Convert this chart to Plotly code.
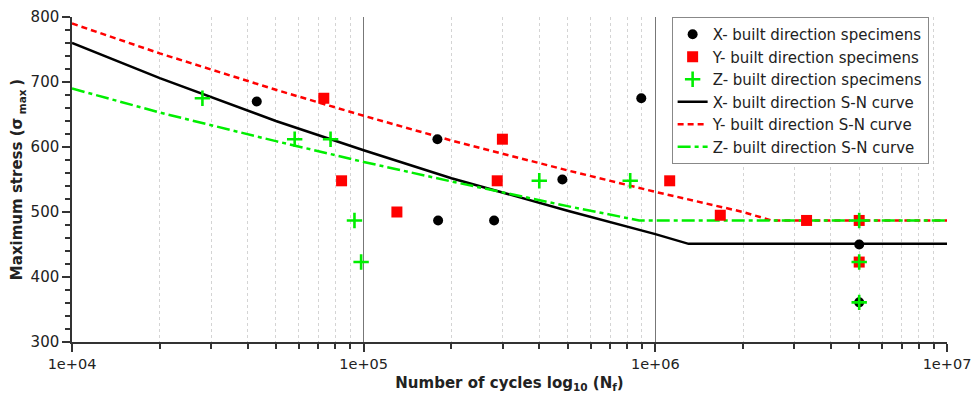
import plotly.graph_objects as go

# Specimen data (cycles, max stress)
x_pts_N = [4.3e4, 1.79e5, 1.8e5, 2.8e5, 4.8e5, 8.95e5, 5e6, 5e6]
x_pts_S = [670, 612, 487, 487, 550, 675, 450, 361]

y_pts_N = [7.3e4, 8.4e4, 1.3e5, 2.99e5, 2.87e5, 1.12e6, 1.67e6, 3.3e6, 5e6, 5e6]
y_pts_S = [675, 548, 500, 612, 548, 548, 495, 487, 487, 423]

z_pts_N = [2.8e4, 5.8e4, 7.7e4, 9.3e4, 9.8e4, 4.0e5, 8.2e5, 5e6, 5e6, 5e6]
z_pts_S = [675, 612, 612, 487, 423, 548, 548, 487, 423, 361]

# S-N curves (read at sample points)
x_curve_N = [1e4, 2e4, 5e4, 1e5, 2e5, 5e5, 1e6, 1.3e6, 1e7]
x_curve_S = [760, 706, 640, 595, 552, 502, 466, 451, 451]

y_curve_N = [1e4, 2e4, 5e4, 1e5, 2e5, 5e5, 1e6, 2e6, 2.5e6, 1e7]
y_curve_S = [790, 744, 688, 648, 610, 564, 531, 500, 487, 487]

z_curve_N = [1e4, 2e4, 5e4, 1e5, 2e5, 5e5, 8.8e5, 1e7]
z_curve_S = [690, 653, 609, 577, 547, 509, 487, 487]

x_tickvals = [1e4, 1e5, 1e6, 1e7]
x_ticktext = ["1e+04", "1e+05", "1e+06", "1e+07"]
x_decade_grid = [1e5, 1e6]

GREEN = "#00ee00"
RED = "#ff0000"

fig = go.Figure()

# invisible helper trace so the overlay grid axis is drawn
fig.add_trace(go.Scatter(x=x_decade_grid, y=[None, None], xaxis="x2", mode="lines",
                         showlegend=False, hoverinfo="skip"))

fig.add_trace(go.Scatter(x=x_curve_N, y=x_curve_S, mode="lines",
                         name="X- built direction S-N curve", legendrank=4,
                         line=dict(color="black", width=2.5)))
fig.add_trace(go.Scatter(x=y_curve_N, y=y_curve_S, mode="lines",
                         name="Y- built direction S-N curve", legendrank=5,
                         line=dict(color=RED, width=2.5, dash="6px,4px")))
fig.add_trace(go.Scatter(x=z_curve_N, y=z_curve_S, mode="lines",
                         name="Z- built direction S-N curve", legendrank=6,
                         line=dict(color=GREEN, width=2.5, dash="13px,4px,4px,4px")))

fig.add_trace(go.Scatter(x=x_pts_N, y=x_pts_S, mode="markers",
                         name="X- built direction specimens", legendrank=1,
                         marker=dict(symbol="circle", size=10, color="black")))
fig.add_trace(go.Scatter(x=y_pts_N, y=y_pts_S, mode="markers",
                         name="Y- built direction specimens", legendrank=2,
                         marker=dict(symbol="square", size=11, color=RED)))
fig.add_trace(go.Scatter(x=z_pts_N, y=z_pts_S, mode="markers",
                         name="Z- built direction specimens", legendrank=3,
                         marker=dict(symbol="cross-thin", size=11, color=GREEN,
                                     line=dict(color=GREEN, width=2.6))))

font_family = "DejaVu Sans"

fig.update_layout(
    width=974, height=394,
    margin=dict(l=72, r=27, t=17, b=52),
    paper_bgcolor="white", plot_bgcolor="white",
    font=dict(family=font_family, size=15, color="#222"),
    showlegend=True,
    legend=dict(x=0.979, y=1.0, xanchor="right", yanchor="top",
                bgcolor="white", bordercolor="#888", borderwidth=1,
                font=dict(size=15, color="#222"), itemwidth=30,
                tracegroupgap=0),
    xaxis=dict(
        type="log", range=[4, 7], automargin=False,
        tickmode="array", tickvals=x_tickvals, ticktext=x_ticktext,
        ticks="outside", ticklen=8, tickcolor="#333", tickwidth=1.5,
        showline=True, linecolor="#333", linewidth=1.5,
        showgrid=False, zeroline=False,
        minor=dict(dtick="D1", ticks="outside", ticklen=5, tickcolor="#333",
                   showgrid=True, gridcolor="#d4d4d4", griddash="dot", gridwidth=1),
        title=dict(text="<b>Number of cycles log<sub>10</sub> (N<sub>f</sub>)</b>",
                   font=dict(size=15, color="#222"), standoff=6),
        tickfont=dict(size=14.5, color="#222"),
    ),
    xaxis2=dict(
        type="log", range=[4, 7], overlaying="x", matches="x", anchor="y",
        tickmode="array", tickvals=x_decade_grid, showticklabels=False, ticks="",
        showgrid=True, gridcolor="#777", gridwidth=1, showline=False, zeroline=False,
        automargin=False,
    ),
    yaxis=dict(
        range=[300, 800], dtick=100, tick0=300, automargin=False,
        ticks="outside", ticklen=8, tickcolor="#333", tickwidth=1.5,
        showline=True, linecolor="#333", linewidth=1.5,
        showgrid=False, zeroline=False,
        minor=dict(dtick=20, ticks="outside", ticklen=5, tickcolor="#333", showgrid=False),
        title=dict(text="<b>Maximum stress (σ<sub> max </sub>)</b>",
                   font=dict(size=15, color="#222"), standoff=4),
        tickfont=dict(size=15, color="#222"),
    ),
)

fig.write_html("out.html", config={"displayModeBar": False},
               post_script="document.body.style.margin='0';document.body.style.overflow='hidden';")
